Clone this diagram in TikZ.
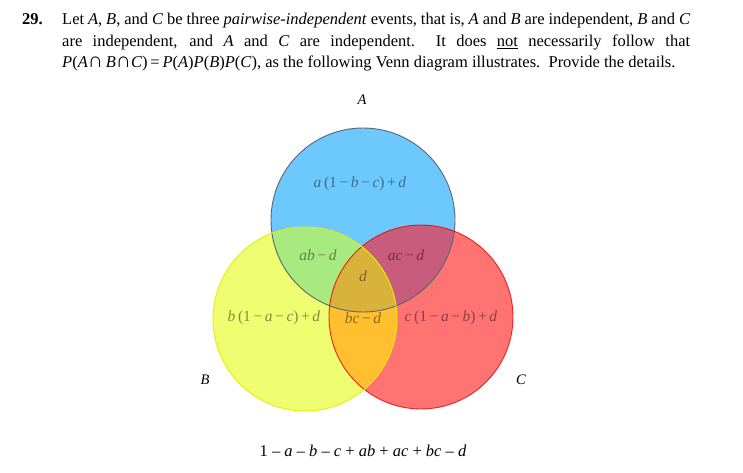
\documentclass[tikz,border=0pt]{standalone}
\usepackage{fontspec}
\setmainfont{Liberation Serif}
\begin{document}
\begin{tikzpicture}[x=1pt,y=-1pt,
  hdr/.style={anchor=base west,inner sep=0pt,font=\fontsize{16.5}{19}\selectfont},
  rlab/.style={inner sep=0pt,font=\fontsize{15.5}{17}\selectfont,text opacity=0.45},
  setlab/.style={inner sep=0pt,font=\fontsize{14.5}{16}\selectfont\itshape}]
\useasboundingbox (0,0) rectangle (743,473);
\definecolor{cA}{HTML}{6DC8FE}
\definecolor{cB}{HTML}{EEFE70}
\definecolor{cC}{HTML}{FF7373}
\definecolor{cAB}{HTML}{A8EA80}
\definecolor{cAC}{HTML}{C85C7C}
\definecolor{cBC}{HTML}{FFBF2F}
\definecolor{cABC}{HTML}{D9B23C}
\definecolor{lA}{HTML}{5A6670}
\definecolor{lB}{HTML}{E6F000}
\definecolor{lC}{HTML}{E80000}
\def\rr{92}
\def\bigcap{{\fontsize{21}{19}\selectfont ∩}}
\coordinate (ca) at (363,220);
\coordinate (cb) at (305,319);
\coordinate (cc) at (421,317);
% header
\node[hdr,font=\fontsize{16.5}{19}\selectfont\bfseries] (num) at (22,25) {29.};
\node[hdr] (l1) at (62,25) {\makebox[628pt][s]{Let \textit{A}, \textit{B}, and \textit{C} be three \textit{pairwise-independent} events, that is, \textit{A} and \textit{B} are independent, \textit{B} and \textit{C}}};
\node[hdr] (l2) at (62,46.5) {\makebox[628pt][s]{are independent, and \textit{A} and \textit{C} are independent.\ \ It does \underline{not} necessarily follow that}};
\node[hdr] (l3) at (62,68) {\textit{P}(\textit{A}\bigcap\,\textit{B}\bigcap\textit{C})\,=\,\textit{P}(\textit{A})\textit{P}(\textit{B})\textit{P}(\textit{C}), as the following Venn diagram illustrates.\ \ Provide the details.};
% regions
\fill[cB] (cb) circle (\rr);
\fill[cC] (cc) circle (\rr);
\fill[cA] (ca) circle (\rr);
\begin{scope}\clip (ca) circle (\rr); \fill[cAB] (cb) circle (\rr); \end{scope}
\begin{scope}\clip (ca) circle (\rr); \fill[cAC] (cc) circle (\rr); \end{scope}
\begin{scope}\clip (cb) circle (\rr); \fill[cBC] (cc) circle (\rr); \end{scope}
\begin{scope}\clip (ca) circle (\rr); \clip (cb) circle (\rr); \fill[cABC] (cc) circle (\rr); \end{scope}
% outlines
\draw[lA,line width=0.9pt] (ca) circle (\rr);
\draw[lC,line width=0.9pt,draw opacity=0.8] (cc) circle (\rr);
\draw[lB,line width=0.9pt] (cb) circle (\rr);
% region labels
\node[rlab] (ra) at (360,184) {\textit{a}\,(1\,−\,\textit{b}\,−\,\textit{c})\,+\,\textit{d}};
\node[rlab] (rab) at (318,255) {\textit{ab}\,−\,\textit{d}};
\node[rlab] (rac) at (406,255) {\textit{ac}\,−\,\textit{d}};
\node[rlab] (rabc) at (363,276) {\textit{d}};
\node[rlab] (rb) at (274,318) {\textit{b}\,(1\,−\,\textit{a}\,−\,\textit{c})\,+\,\textit{d}};
\node[rlab] (rbc) at (363,318) {\textit{bc}\,−\,\textit{d}};
\node[rlab] (rc) at (451,318) {\textit{c}\,(1\,−\,\textit{a}\,−\,\textit{b})\,+\,\textit{d}};
% set labels
\node[setlab] (la) at (362,100) {A};
\node[setlab] (lb) at (205,380) {B};
\node[setlab] (lc) at (521,380) {C};
% outside
\node[inner sep=0pt,font=\fontsize{16.5}{19}\selectfont] (out) at (363,451) {1 – \textit{a} – \textit{b} – \textit{c} + \textit{ab} + \textit{ac} + \textit{bc} – \textit{d}};
\end{tikzpicture}
\end{document}
